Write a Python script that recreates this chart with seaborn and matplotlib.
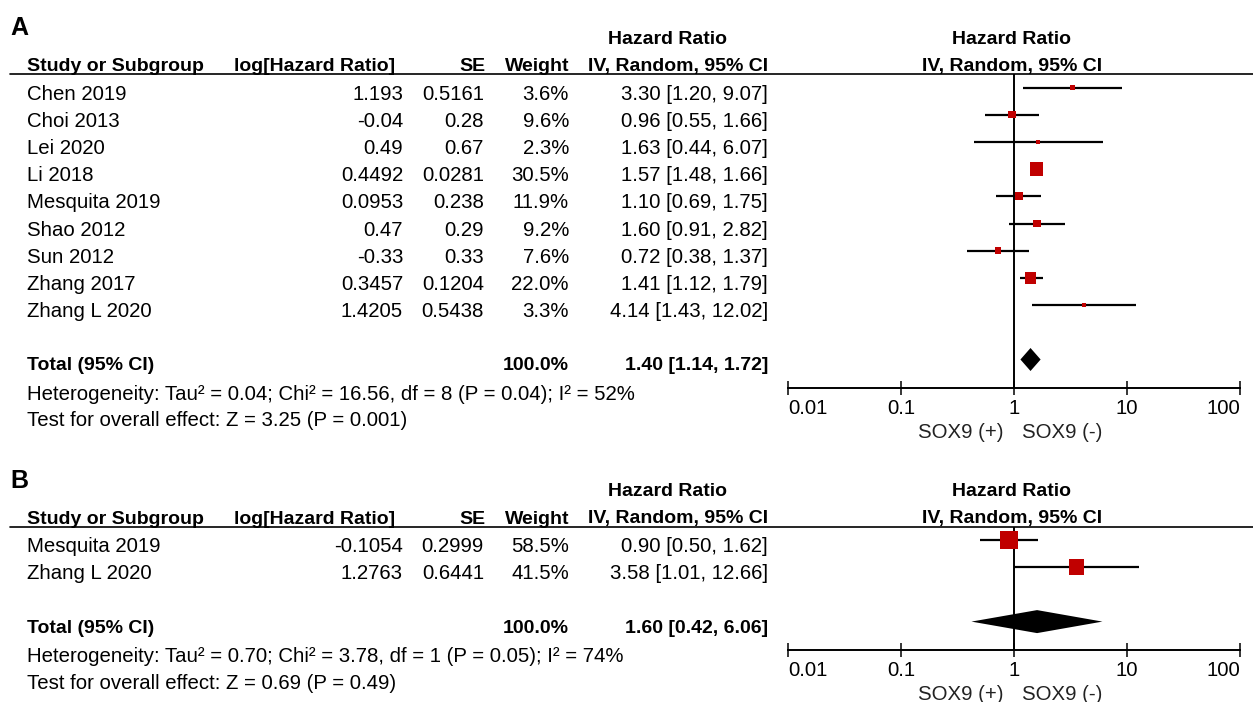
import numpy as np
import pandas as pd
import matplotlib
matplotlib.use("Agg")
import matplotlib.pyplot as plt
import seaborn as sns

# ---- Panel A: all studies --------------------------------------------------
studies_a = ["Chen 2019", "Choi 2013", "Lei 2020", "Li 2018", "Mesquita 2019",
             "Shao 2012", "Sun 2012", "Zhang 2017", "Zhang L 2020"]
log_hr_a = [1.193, -0.04, 0.49, 0.4492, 0.0953, 0.47, -0.33, 0.3457, 1.4205]
se_a = [0.5161, 0.28, 0.67, 0.0281, 0.238, 0.29, 0.33, 0.1204, 0.5438]
weight_a = [3.6, 9.6, 2.3, 30.5, 11.9, 9.2, 7.6, 22.0, 3.3]
hr_a = [3.30, 0.96, 1.63, 1.57, 1.10, 1.60, 0.72, 1.41, 4.14]
lower_a = [1.20, 0.55, 0.44, 1.48, 0.69, 0.91, 0.38, 1.12, 1.43]
upper_a = [9.07, 1.66, 6.07, 1.66, 1.75, 2.82, 1.37, 1.79, 12.02]
total_a = [1.40, 1.14, 1.72]             # pooled HR, lower, upper
het_a = [0.04, 16.56, 8, 0.04, 52]        # Tau², Chi², df, P, I²
overall_a = [3.25, 0.001]                 # Z, P

# ---- Panel B: subgroup -----------------------------------------------------
studies_b = ["Mesquita 2019", "Zhang L 2020"]
log_hr_b = [-0.1054, 1.2763]
se_b = [0.2999, 0.6441]
weight_b = [58.5, 41.5]
hr_b = [0.90, 3.58]
lower_b = [0.50, 1.01]
upper_b = [1.62, 12.66]
total_b = [1.60, 0.42, 6.06]
het_b = [0.70, 3.78, 1, 0.05, 74]
overall_b = [0.69, 0.49]

x_ticks = [0.01, 0.1, 1, 10, 100]
x_tick_labels = ["0.01", "0.1", "1", "10", "100"]
favours = ["SOX9 (+)", "SOX9 (-)"]

# ---- layout (pixels) -------------------------------------------------------
W, H = 1253, 702
STEP = 27.2
PLOT_X0, PLOT_X1 = 788, 1240
RED = "#C00000"
FS = 14.7
FSB = 14

sns.set_theme(style="white")
plt.rcParams["font.family"] = ["Liberation Sans", "DejaVu Sans"]

fig = plt.figure(figsize=(W / 100, H / 100), dpi=100)
bg = fig.add_axes([0, 0, 1, 1])
bg.set_xlim(0, W)
bg.set_ylim(H, 0)
bg.axis("off")


def txt(x, y, s, ha="left", bold=False, size=None, color="black"):
    bg.text(x, y, s, ha=ha, va="baseline", color=color,
            fontsize=size or (FSB if bold else FS),
            fontweight="bold" if bold else "normal")


def draw_panel(letter, line_y, studies, log_hr, se, weight, hr, lo, hi,
               total, het, overall):
    n = len(studies)
    row_y = line_y + 13.5 + STEP * np.arange(n)
    total_y = row_y[-1] + 2 * STEP
    axis_y = total_y + 28

    # panel letter and header
    txt(10, line_y - 39, letter, bold=True, size=18)
    txt(668, line_y - 30, "Hazard Ratio", ha="center", bold=True)
    txt(1012, line_y - 30, "Hazard Ratio", ha="center", bold=True)
    txt(27, line_y - 3, "Study or Subgroup", bold=True)
    txt(395, line_y - 3, "log[Hazard Ratio]", ha="right", bold=True)
    txt(485, line_y - 3, "SE", ha="right", bold=True)
    txt(569, line_y - 3, "Weight", ha="right", bold=True)
    txt(768, line_y - 3, "IV, Random, 95% CI", ha="right", bold=True)
    txt(1012, line_y - 3, "IV, Random, 95% CI", ha="center", bold=True)
    bg.plot([10, W], [line_y, line_y], color="black", lw=1.2)

    # study rows
    for i in range(n):
        b = row_y[i] + 12
        txt(27, b, studies[i])
        txt(403, b, repr(log_hr[i]), ha="right")
        txt(484, b, repr(se[i]), ha="right")
        txt(569, b, f"{weight[i]:.1f}%", ha="right")
        txt(768, b, f"{hr[i]:.2f} [{lo[i]:.2f}, {hi[i]:.2f}]", ha="right")

    # totals and statistics
    tb = total_y + 11
    txt(27, tb, "Total (95% CI)", bold=True)
    txt(569, tb, f"{sum(weight):.1f}%", ha="right", bold=True)
    txt(768, tb, f"{total[0]:.2f} [{total[1]:.2f}, {total[2]:.2f}]",
        ha="right", bold=True)
    tau2, chi2, dof, p_het, i2 = het
    txt(27, axis_y + 12,
        f"Heterogeneity: Tau\u00b2 = {tau2:.2f}; Chi\u00b2 = {chi2:.2f}, "
        f"df = {dof} (P = {p_het:.2f}); I\u00b2 = {i2}%")
    txt(27, axis_y + 39,
        f"Test for overall effect: Z = {overall[0]:.2f} (P = {overall[1]:g})")

    # forest plot
    ax = fig.add_axes([PLOT_X0 / W, 1 - axis_y / H,
                       (PLOT_X1 - PLOT_X0) / W, (axis_y - line_y) / H])
    ax.patch.set_alpha(0)
    ax.axvline(1, color="black", lw=1.4, zorder=1)
    ax.hlines(row_y, lo, hi, color="black", lw=1.6, zorder=2)
    df = pd.DataFrame({"hr": hr, "y": row_y})
    area = (2.4 * np.sqrt(np.asarray(weight)) * 0.72) ** 2
    sns.scatterplot(data=df, x="hr", y="y", marker="s", s=area, color=RED,
                    linewidth=0, legend=False, ax=ax, zorder=3)
    h = 11.5
    ax.fill([total[1], total[0], total[2], total[0]],
            [total_y, total_y - h, total_y, total_y + h],
            color="black", lw=0, zorder=3)

    ax.set_xscale("log")
    ax.set_xlim(0.01, 100)
    ax.set_ylim(axis_y, line_y)
    ax.set_xlabel("")
    ax.set_ylabel("")
    ax.set_yticks([])
    ax.xaxis.set_minor_locator(matplotlib.ticker.NullLocator())
    ax.set_xticks(x_ticks, x_tick_labels)
    ax.tick_params(axis="x", which="major", bottom=True, direction="inout",
                   length=9.5, width=1.1, color="black", pad=3.5,
                   labelsize=FS, labelcolor="black")
    labels = ax.get_xticklabels()
    labels[0].set_horizontalalignment("left")
    labels[-1].set_horizontalalignment("right")
    for s in ["top", "left", "right"]:
        ax.spines[s].set_visible(False)
    ax.spines["bottom"].set_color("black")
    ax.spines["bottom"].set_linewidth(1.4)

    txt(1003, axis_y + 50, favours[0], ha="right", color="#222222")
    txt(1022, axis_y + 50, favours[1], ha="left", color="#222222")


draw_panel("A", 74, studies_a, log_hr_a, se_a, weight_a, hr_a, lower_a,
           upper_a, total_a, het_a, overall_a)
draw_panel("B", 526.5, studies_b, log_hr_b, se_b, weight_b, hr_b, lower_b,
           upper_b, total_b, het_b, overall_b)

fig.savefig("out.png", dpi=100, facecolor="white")
